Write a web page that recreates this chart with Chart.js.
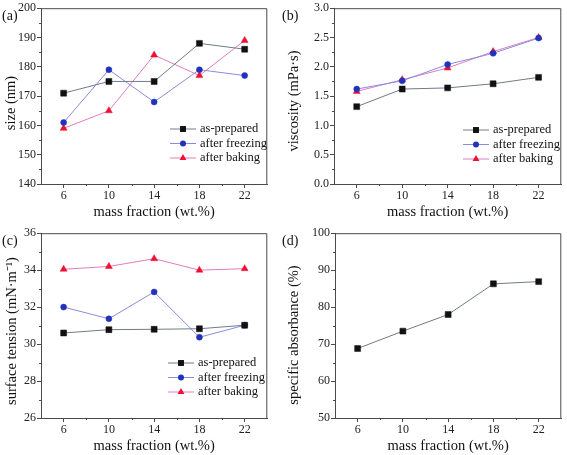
<!DOCTYPE html>
<html>
<head>
<meta charset="utf-8">
<script src="https://cdn.jsdelivr.net/npm/chart.js@4.4.0/dist/chart.umd.min.js"></script>
<style>
  body { margin: 0; background: #fff; }
  .panel { position: absolute; }
</style>
</head>
<body>
<div class="panel" style="left:0;top:0;width:272px;height:225px"><canvas id="chart-a"></canvas></div>
<div class="panel" style="left:280px;top:0;width:286px;height:225px"><canvas id="chart-b"></canvas></div>
<div class="panel" style="left:0;top:225px;width:272px;height:230px"><canvas id="chart-c"></canvas></div>
<div class="panel" style="left:280px;top:225px;width:286px;height:230px"><canvas id="chart-d"></canvas></div>
<script>
// data
const massFraction = [6, 10, 14, 18, 22];
const seriesNames = ['as-prepared', 'after freezing', 'after baking'];

const sizePrepared = [171, 175, 175, 188, 186];
const sizeFreezing = [161, 179, 168, 179, 177];
const sizeBaking = [159, 165, 184, 177, 189];

const viscPrepared = [1.32, 1.62, 1.64, 1.71, 1.82];
const viscFreezing = [1.62, 1.76, 2.04, 2.23, 2.49];
const viscBaking = [1.58, 1.78, 1.98, 2.26, 2.50];

const tensionPrepared = [30.6, 30.78, 30.8, 30.83, 31.02];
const tensionFreezing = [32.0, 31.37, 32.82, 30.37, 31.02];
const tensionBaking = [34.05, 34.2, 34.62, 34.0, 34.08];

const absorbance = [68.8, 73.5, 78.0, 86.3, 86.9];

const FONT = "'Liberation Serif', 'Times New Roman', serif";
const AXIS = '#4a4a4a';

const styles = [
    { line: '#6f7c88', point: '#111', shape: 'rect', r: 4.2 },
    { line: '#8a8ae0', point: '#2233bb', shape: 'circle', r: 3 },
    { line: '#e07cc0', point: '#ee1133', shape: 'triangle', r: 4 }
];

const toPoints = (ys) => ys.map((y, i) => ({ x: massFraction[i], y: y }));

const makeDataset = (label, ys, st) => ({
    label: label,
    data: toPoints(ys),
    borderColor: st.line,
    borderWidth: 1,
    pointStyle: st.shape,
    pointRadius: st.r,
    pointBackgroundColor: st.point,
    pointBorderColor: st.point,
    pointBorderWidth: 0.5,
    _shape: st.shape,
    tension: 0
});

function drawMarker(ctx, shape, x, y, r, color) {
    ctx.save();
    ctx.fillStyle = color;
    ctx.beginPath();
    if (shape === 'rect') {
        const s = Math.SQRT1_2 * r;
        ctx.rect(x - s, y - s, 2 * s, 2 * s);
    } else if (shape === 'circle') {
        ctx.arc(x, y, r, 0, Math.PI * 2);
    } else {
        ctx.moveTo(x, y - r);
        ctx.lineTo(x + r * 0.87, y + r * 0.5);
        ctx.lineTo(x - r * 0.87, y + r * 0.5);
        ctx.closePath();
    }
    ctx.fill();
    ctx.restore();
}

// frame, minor ticks, y title, panel letter and legend
const panelPlugin = {
    id: 'panel',
    afterDraw(chart, args, opts) {
        const ctx = chart.ctx;
        const a = chart.chartArea;
        ctx.save();
        ctx.strokeStyle = AXIS;
        ctx.lineWidth = 1;
        ctx.beginPath();
        ctx.moveTo(a.left, a.top + 0.5);
        ctx.lineTo(a.right - 0.5, a.top + 0.5);
        ctx.lineTo(a.right - 0.5, a.bottom);
        ctx.stroke();

        // minor ticks
        const ys = chart.scales.y;
        ctx.beginPath();
        for (let i = 0; i < ys.ticks.length - 1; i++) {
            const v = (ys.ticks[i].value + ys.ticks[i + 1].value) / 2;
            const py = Math.round(ys.getPixelForValue(v)) + 0.5;
            ctx.moveTo(a.left - 2, py);
            ctx.lineTo(a.left, py);
        }
        const xs = chart.scales.x;
        for (let i = 0; i < xs.ticks.length - 1; i++) {
            const v = (xs.ticks[i].value + xs.ticks[i + 1].value) / 2;
            const px = Math.round(xs.getPixelForValue(v)) + 0.5;
            ctx.moveTo(px, a.bottom);
            ctx.lineTo(px, a.bottom + 2);
        }
        ctx.stroke();

        ctx.fillStyle = '#111';
        ctx.textBaseline = 'middle';

        // y axis title
        ctx.save();
        ctx.font = '14.5px ' + FONT;
        ctx.textAlign = 'center';
        ctx.translate(opts.titleX, opts.titleY);
        ctx.rotate(-Math.PI / 2);
        ctx.fillText(opts.yTitle, 0, 0);
        ctx.restore();

        ctx.font = '14px ' + FONT;
        ctx.textAlign = 'left';
        ctx.fillText(opts.label, 2, 16);

        if (opts.legend) {
            const lg = opts.legend;
            ctx.font = '12.5px ' + FONT;
            chart.data.datasets.forEach((ds, i) => {
                const y = lg.y + i * lg.dy;
                ctx.strokeStyle = ds.borderColor;
                ctx.beginPath();
                ctx.moveTo(lg.x, y);
                ctx.lineTo(lg.x + 26, y);
                ctx.stroke();
                drawMarker(ctx, ds._shape, lg.x + 13, y, ds.pointRadius, ds.pointBackgroundColor);
                ctx.fillStyle = '#111';
                ctx.fillText(ds.label, lg.x + 30, y);
            });
        }
        ctx.restore();
    }
};

function makeChart(id, datasets, cfg) {
    const ctx = document.getElementById(id).getContext('2d');
    return new Chart(ctx, {
        type: 'line',
        data: { datasets: datasets },
        plugins: [panelPlugin],
        options: {
            responsive: true,
            maintainAspectRatio: false,
            animation: false,
            layout: { padding: { top: cfg.padTop, right: cfg.padRight, left: 0, bottom: 0 } },
            plugins: {
                legend: { display: false },
                tooltip: { enabled: false },
                panel: {
                    label: cfg.label, yTitle: cfg.yTitle,
                    titleX: cfg.titleX, titleY: cfg.titleY, legend: cfg.legend
                }
            },
            scales: {
                x: {
                    type: 'linear',
                    min: 4,
                    max: 24,
                    afterBuildTicks: (s) => { s.ticks = massFraction.map(v => ({ value: v })); },
                    afterFit: (s) => { s.height = cfg.xHeight; },
                    grid: { drawOnChartArea: false, tickLength: 4, color: AXIS },
                    border: { color: AXIS, width: 1 },
                    ticks: { color: '#222', padding: 1, font: { family: FONT, size: 12 } },
                    title: {
                        display: true,
                        text: 'mass fraction (wt.%)',
                        color: '#111',
                        font: { family: FONT, size: 14.5 },
                        padding: { top: 0, bottom: cfg.xTitlePad }
                    }
                },
                y: {
                    min: cfg.yMin,
                    max: cfg.yMax,
                    afterFit: (s) => { s.width = cfg.yWidth; },
                    grid: { drawOnChartArea: false, tickLength: 4, color: AXIS },
                    border: { color: AXIS, width: 1 },
                    ticks: {
                        stepSize: cfg.yStep,
                        color: '#222',
                        padding: 1,
                        font: { family: FONT, size: 12 },
                        callback: (v) => cfg.yDec ? v.toFixed(cfg.yDec) : v
                    }
                }
            }
        }
    });
}

makeChart('chart-a', [
    makeDataset(seriesNames[0], sizePrepared, styles[0]),
    makeDataset(seriesNames[1], sizeFreezing, styles[1]),
    makeDataset(seriesNames[2], sizeBaking, styles[2])
], {
    label: '(a)', yTitle: 'size (nm)', yMin: 140, yMax: 200, yStep: 10, yDec: 0,
    yWidth: 41, xHeight: 41, padTop: 6, padRight: 1, xTitlePad: 4,
    titleX: 11, titleY: 103,
    legend: { x: 170, y: 129, dy: 14.5 }
});

makeChart('chart-b', [
    makeDataset(seriesNames[0], viscPrepared, styles[0]),
    makeDataset(seriesNames[1], viscFreezing, styles[1]),
    makeDataset(seriesNames[2], viscBaking, styles[2])
], {
    label: '(b)', yTitle: 'viscosity (mPa·s)', yMin: 0, yMax: 3, yStep: 0.5, yDec: 1,
    yWidth: 54, xHeight: 41, padTop: 6, padRight: 2, xTitlePad: 4,
    titleX: 14, titleY: 101,
    legend: { x: 183, y: 130, dy: 14.5 }
});

makeChart('chart-c', [
    makeDataset(seriesNames[0], tensionPrepared, styles[0]),
    makeDataset(seriesNames[1], tensionFreezing, styles[1]),
    makeDataset(seriesNames[2], tensionBaking, styles[2])
], {
    label: '(c)', yTitle: 'surface tension (mN·m⁻¹)', yMin: 26, yMax: 36, yStep: 2, yDec: 0,
    yWidth: 41, xHeight: 37, padTop: 6, padRight: 1, xTitlePad: 0,
    titleX: 12, titleY: 106,
    legend: { x: 168, y: 138, dy: 14.5 }
});

makeChart('chart-d', [
    makeDataset('specific absorbance', absorbance, styles[0])
], {
    label: '(d)', yTitle: 'specific absorbance (%)', yMin: 50, yMax: 100, yStep: 10, yDec: 0,
    yWidth: 55, xHeight: 37, padTop: 6, padRight: 2, xTitlePad: 0,
    titleX: 14, titleY: 110,
    legend: null
});
</script>
</body>
</html>
